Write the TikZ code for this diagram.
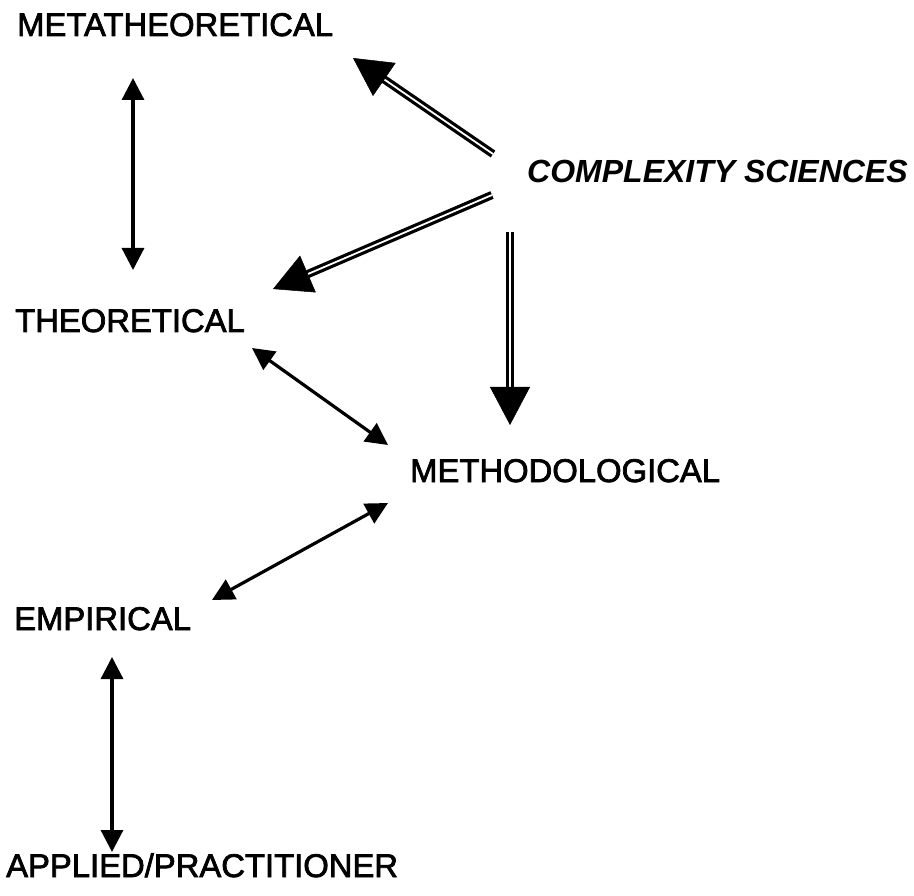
\documentclass[tikz,border=0pt]{standalone}
\usepackage{fontspec}
\setmainfont{Liberation Sans}[FakeBold=2.2]
\newfontfamily\csfont{Liberation Sans Bold Italic}
\usetikzlibrary{arrows.meta,calc}

\begin{document}
\begin{tikzpicture}[x=1pt,y=-1pt,
  level/.style={anchor=base west,inner sep=0pt,font=\fontsize{32.8}{38}\selectfont},
  thin link/.style={line width=3.2pt,
    {Triangle[length=22pt,width=22pt]}-{Triangle[length=22pt,width=22pt]}},
  shaft/.style={line width=3.2pt,double=white,double distance=1.8pt},
  bighead/.style={line width=0.5pt,-{Triangle[length=38pt,width=40pt]}}]
  \useasboundingbox (0,0) rectangle (914,896);

  % levels of inquiry
  \node[level] (meta) at (17,36)  {METATHEORETICAL};
  \node[level] (theo) at (15,332) {THEORETICAL};
  \node[level] (meth) at (410,482) {METHODOLOGICAL};
  \node[level] (emp)  at (14,630) {EMPIRICAL};
  \node[level] (app)  at (6,877)  {APPLIED/PRACTITIONER};
  \node[level,font=\fontsize{32}{38}\selectfont\csfont]
    (cs) at (527,183) {COMPLEXITY SCIENCES};

  % end points of the connectors
  \coordinate (meta-s) at (133,78);
  \coordinate (theo-n) at (133,270);
  \coordinate (theo-se) at (252,348);
  \coordinate (meth-nw) at (388,445);
  \coordinate (meth-sw) at (388,503);
  \coordinate (emp-ne) at (212,600);
  \coordinate (emp-s) at (112,657);
  \coordinate (app-n) at (112,852);
  \coordinate (cs-a) at (493,154);
  \coordinate (meta-e) at (353,58);
  \coordinate (cs-b) at (492,195);
  \coordinate (theo-ne) at (273,289);
  \coordinate (cs-c) at (510,232);
  \coordinate (meth-n) at (510,425);

  % two-way links between adjacent levels
  \draw[thin link] (meta-s) -- (theo-n);
  \draw[thin link] (theo-se) -- (meth-nw);
  \draw[thin link] (meth-sw) -- (emp-ne);
  \draw[thin link] (emp-s) -- (app-n);

  % influence of the complexity sciences
  \foreach \from/\to in {cs-a/meta-e, cs-b/theo-ne, cs-c/meth-n}{
    \draw[shaft] (\from) -- ($(\to)!32pt!(\from)$);
    \draw[bighead] ($(\to)!38pt!(\from)$) -- (\to);
  }
\end{tikzpicture}
\end{document}
